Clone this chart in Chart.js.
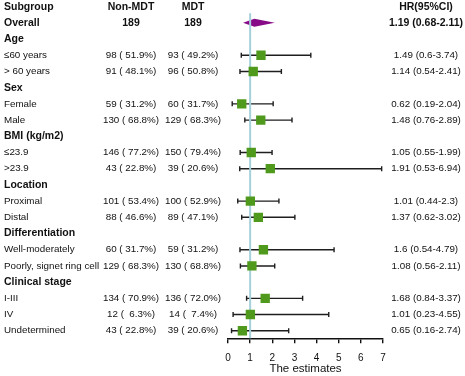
<!DOCTYPE html>
<html>
<head>
<meta charset="utf-8">
<script src="https://cdn.jsdelivr.net/npm/chart.js@4/dist/chart.umd.min.js"></script>
<style>
    html, body { margin: 0; padding: 0; background: #fff; }
    #wrap { position: relative; width: 465px; height: 376px; }
</style>
</head>
<body>
<div id="wrap"><canvas id="forest"></canvas></div>
<script>
// row 0 is the column header, rows 1..20 follow
var subgroups = ['Overall', 'Age', '\u226460 years', '> 60 years', 'Sex', 'Female', 'Male',
    'BMI (kg/m2)', '\u226423.9', '>23.9', 'Location', 'Proximal', 'Distal',
    'Differentiation', 'Well-moderately', 'Poorly, signet ring cell',
    'Clinical stage', 'I-III', 'IV', 'Undetermined'];
var boldRows = ['Overall', 'Age', 'Sex', 'BMI (kg/m2)', 'Location', 'Differentiation', 'Clinical stage'];
var nonMdt = ['189', '', '98 ( 51.9%)', '91 ( 48.1%)', '', '59 ( 31.2%)', '130 ( 68.8%)',
    '', '146 ( 77.2%)', '43 ( 22.8%)', '', '101 ( 53.4%)', '88 ( 46.6%)',
    '', '60 ( 31.7%)', '129 ( 68.3%)', '', '134 ( 70.9%)', '12 (  6.3%)', '43 ( 22.8%)'];
var mdt = ['189', '', '93 ( 49.2%)', '96 ( 50.8%)', '', '60 ( 31.7%)', '129 ( 68.3%)',
    '', '150 ( 79.4%)', '39 ( 20.6%)', '', '100 ( 52.9%)', '89 ( 47.1%)',
    '', '59 ( 31.2%)', '130 ( 68.8%)', '', '136 ( 72.0%)', '14 (  7.4%)', '39 ( 20.6%)'];
var hrEst = [1.19, null, 1.49, 1.14, null, 0.62, 1.48, null, 1.05, 1.91, null, 1.01, 1.37,
    null, 1.6, 1.08, null, 1.68, 1.01, 0.65];
var hrLow = [0.68, null, 0.6, 0.54, null, 0.19, 0.76, null, 0.55, 0.53, null, 0.44, 0.62,
    null, 0.54, 0.56, null, 0.84, 0.23, 0.16];
var hrHigh = [2.11, null, 3.74, 2.41, null, 2.04, 2.89, null, 1.99, 6.94, null, 2.3, 3.02,
    null, 4.79, 2.11, null, 3.37, 4.55, 2.74];
var xTicks = [0, 1, 2, 3, 4, 5, 6, 7];

var FONT = '"Liberation Sans", Arial, sans-serif';
var GREEN = '#4f9a1c';
var PURPLE = '#870a87';
var REF_BLUE = '#a6d0da';

// squares for every subgroup row that has an estimate (Overall uses a diamond)
var squarePoints = [];
hrEst.forEach(function (v, i) {
    if (v != null && i > 0) squarePoints.push({ x: v, y: i + 1 });
});

var forestPlugin = {
    id: 'forest',
    beforeDatasetsDraw: function (chart) {
        var ctx = chart.ctx;
        var xs = chart.scales.x;
        var ys = chart.scales.y;
        ctx.save();

        // confidence interval whiskers
        ctx.strokeStyle = '#1e1e1e';
        ctx.lineWidth = 1.4;
        hrEst.forEach(function (v, i) {
            if (v == null || i === 0) return;
            var y = ys.getPixelForValue(i + 1);
            var x1 = xs.getPixelForValue(hrLow[i]);
            var x2 = xs.getPixelForValue(hrHigh[i]);
            ctx.beginPath();
            ctx.moveTo(x1, y); ctx.lineTo(x2, y);
            ctx.moveTo(x1, y - 2.5); ctx.lineTo(x1, y + 2.5);
            ctx.moveTo(x2, y - 2.5); ctx.lineTo(x2, y + 2.5);
            ctx.stroke();
        });

        // overall diamond
        var yo = ys.getPixelForValue(1);
        ctx.fillStyle = PURPLE;
        ctx.beginPath();
        ctx.moveTo(xs.getPixelForValue(hrLow[0]), yo);
        ctx.lineTo(xs.getPixelForValue(hrEst[0]), yo - 4);
        ctx.lineTo(xs.getPixelForValue(hrHigh[0]), yo);
        ctx.lineTo(xs.getPixelForValue(hrEst[0]), yo + 4);
        ctx.closePath();
        ctx.fill();

        // reference line at HR = 1
        ctx.strokeStyle = REF_BLUE;
        ctx.lineWidth = 2;
        ctx.beginPath();
        ctx.moveTo(xs.getPixelForValue(1), ys.getPixelForValue(0.4));
        ctx.lineTo(xs.getPixelForValue(1), ys.getPixelForValue(20.46));
        ctx.stroke();
        ctx.restore();
    },
    afterDraw: function (chart) {
        var ctx = chart.ctx;
        var ys = chart.scales.y;
        ctx.save();
        ctx.fillStyle = '#111';
        ctx.textBaseline = 'middle';

        function put(text, x, row, align, bold) {
            ctx.font = (bold ? 'bold 10.5px ' : '9.8px ') + FONT;
            ctx.textAlign = align;
            ctx.fillText(text, x, ys.getPixelForValue(row));
        }

        put('Subgroup', 4, 0, 'left', true);
        put('Non-MDT', 131, 0, 'center', true);
        put('MDT', 193, 0, 'center', true);
        put('HR(95%CI)', 426, 0, 'center', true);

        subgroups.forEach(function (name, i) {
            var row = i + 1;
            var bold = boldRows.indexOf(name) >= 0;
            put(name, 4, row, 'left', bold);
            if (nonMdt[i]) put(nonMdt[i], 131, row, 'center', i === 0);
            if (mdt[i]) put(mdt[i], 193, row, 'center', i === 0);
            if (hrEst[i] != null) {
                var txt = hrEst[i] + ' (' + hrLow[i] + '-' + hrHigh[i] + ')';
                put(txt, 426, row, 'center', i === 0);
            }
        });
        ctx.restore();
    }
};

new Chart(document.getElementById('forest'), {
    type: 'scatter',
    data: {
        datasets: [{
            data: squarePoints,
            pointStyle: 'rect',
            pointRadius: 6.6,
            pointHoverRadius: 6.6,
            backgroundColor: GREEN,
            borderWidth: 0
        }]
    },
    options: {
        responsive: true,
        maintainAspectRatio: false,
        animation: false,
        layout: { autoPadding: false, padding: { left: 228, right: 82, top: 0, bottom: 0 } },
        plugins: {
            legend: { display: false },
            tooltip: { enabled: false }
        },
        scales: {
            x: {
                type: 'linear',
                min: 0,
                max: 7,
                afterBuildTicks: function (scale) {
                    scale.ticks = xTicks.map(function (v) { return { value: v }; });
                },
                // fixed axis band so the axis line lands where the reference has it
                afterFit: function (scale) {
                    scale.height = 37.8;
                },
                ticks: { color: '#111', font: { family: FONT, size: 10 }, padding: 9 },
                grid: { drawOnChartArea: false, color: '#111', tickColor: '#111', tickLength: 5, lineWidth: 1.4 },
                border: { color: '#111', width: 1.4 },
                title: {
                    display: true,
                    text: 'The estimates',
                    color: '#111',
                    font: { family: FONT, size: 11.5 },
                    padding: { top: 0, bottom: 0 }
                }
            },
            y: {
                type: 'linear',
                display: false,
                reverse: true,
                min: -0.41,
                max: 20.46
            }
        }
    },
    plugins: [forestPlugin]
});
</script>
</body>
</html>
